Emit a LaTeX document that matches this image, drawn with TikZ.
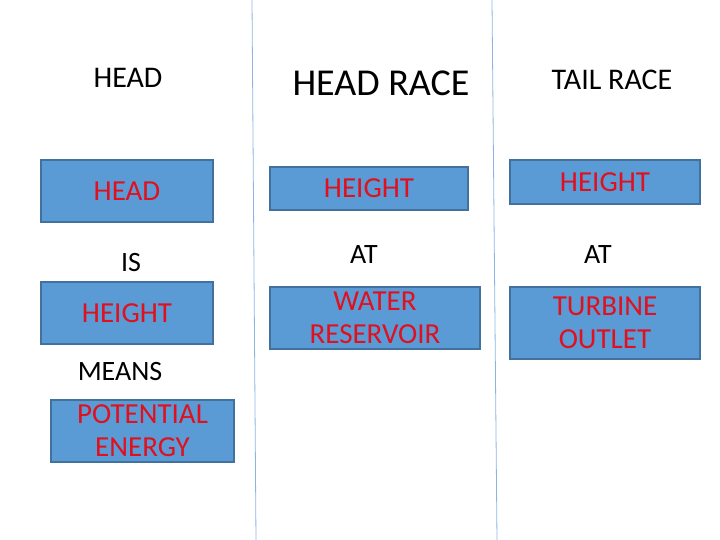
\documentclass[tikz,border=0pt]{standalone}
\usepackage{fontspec}
\setmainfont{Carlito}
\begin{document}
\begin{tikzpicture}[x=1pt,y=-1pt,
 bx/.style={draw=boxb,line width=1.5pt,fill=boxf,text=red0,font=\fontsize{29}{33}\selectfont,align=center,inner sep=0pt},
 lb/.style={font=\fontsize{30}{34}\selectfont,inner sep=0pt}]
\definecolor{boxf}{HTML}{5B9BD5}
\definecolor{boxb}{HTML}{41719C}
\definecolor{red0}{HTML}{E0101E}
\definecolor{ln}{HTML}{8EB4E3}
\useasboundingbox (0,0) rectangle (720,540);
\coordinate (l1a) at (252,0); \coordinate (l1b) at (256,540);
\coordinate (l2a) at (492,0); \coordinate (l2b) at (497,540);
\draw[ln,line width=0.8pt] (l1a) -- (l1b);
\draw[ln,line width=0.8pt] (l2a) -- (l2b);
\node[lb] (t1) at (128,78) {HEAD};
\node[lb,font=\fontsize{38}{42}\selectfont] (t2) at (381,83) {HEAD RACE};
\node[lb] (t3) at (612,80) {TAIL RACE};
\node[bx,minimum width=172,minimum height=62] (b1) at (127,191) {HEAD};
\node[lb,font=\fontsize{28}{32}\selectfont] (is) at (131,263) {IS};
\node[bx,minimum width=172,minimum height=62] (b2) at (127,313) {HEIGHT};
\node[lb,font=\fontsize{28}{32}\selectfont] (means) at (120,372) {MEANS};
\node[bx,minimum width=183,minimum height=62] (b3) at (142.5,431) {POTENTIAL\\ENERGY};
\node[bx,minimum width=198,minimum height=43] (m1) at (369,188.5) {HEIGHT};
\node[lb,font=\fontsize{28}{32}\selectfont] (at1) at (364,255) {AT};
\node[bx,minimum width=210,minimum height=62] (m2) at (375,318) {WATER\\RESERVOIR};
\node[bx,minimum width=190,minimum height=44] (r1) at (605,182) {HEIGHT};
\node[lb,font=\fontsize{28}{32}\selectfont] (at2) at (598,255) {AT};
\node[bx,minimum width=190,minimum height=72] (r2) at (605,323) {TURBINE\\OUTLET};
\end{tikzpicture}
\end{document}
